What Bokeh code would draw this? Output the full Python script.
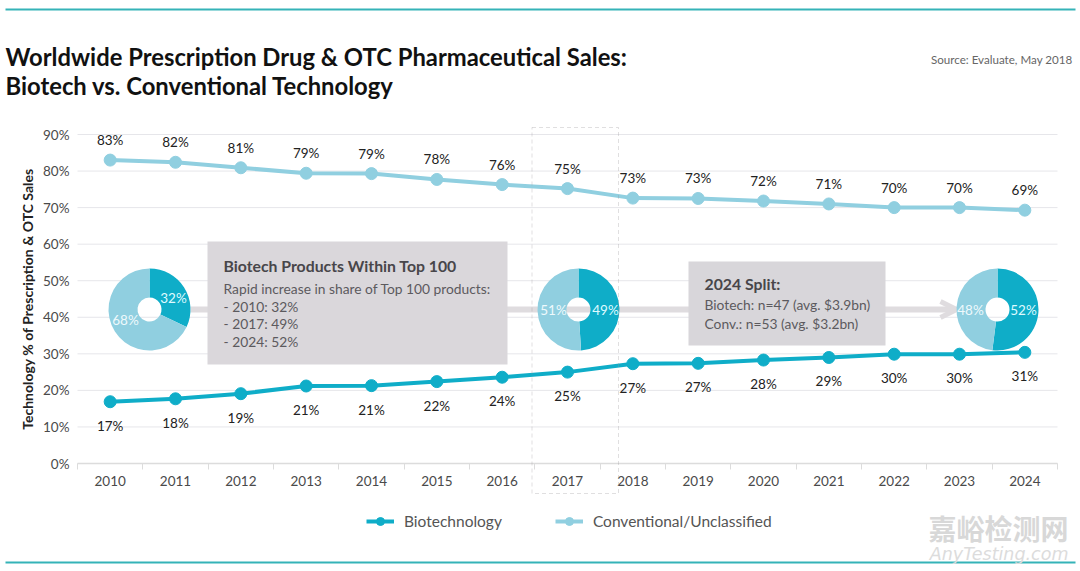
from math import pi
from bokeh.plotting import figure
from bokeh.core.properties import value
from bokeh.embed import file_html
from bokeh.resources import INLINE
from bokeh.models import (ColumnDataSource, Range1d, FixedTicker, Label, LabelSet, LinearAxis,
                          BoxAnnotation, Legend, LegendItem, Arrow, OpenHead)

years = [2010, 2011, 2012, 2013, 2014, 2015, 2016, 2017, 2018, 2019, 2020, 2021, 2022, 2023, 2024]
biotech = [16.9, 17.7, 19.1, 21.2, 21.3, 22.4, 23.6, 25.0, 27.3, 27.4, 28.3, 29.0, 29.9, 29.9, 30.4]
conventional = [83.0, 82.4, 80.9, 79.4, 79.3, 77.7, 76.3, 75.2, 72.6, 72.5, 71.8, 71.0, 70.0, 70.0, 69.3]
biotech_labels = ["17%", "18%", "19%", "21%", "21%", "22%", "24%", "25%", "27%", "27%", "28%", "29%", "30%", "30%", "31%"]
conventional_labels = ["83%", "82%", "81%", "79%", "79%", "78%", "76%", "75%", "73%", "73%", "72%", "71%", "70%", "70%", "69%"]
y_ticks = [0, 10, 20, 30, 40, 50, 60, 70, 80, 90]
pie_biotech = [32, 49, 52]
pie_conventional = [68, 51, 48]

FONT = "Lato"
TEAL = "#0fadc8"
LIGHT = "#90cfe0"
FW, FH = 1080, 571
L, T, R, B = 77, 134, 1057, 463   # plot area edges in image pixels
XS = 15 / (R - L)
YS = 90 / (B - T)

def X(px):
    return 2009.5 + (px - L) * XS

def Y(py):
    return (B - py) * YS

p = figure(width=FW, height=FH, output_backend="svg", toolbar_location=None,
           min_border=0, x_axis_location=None, y_axis_location=None,
           x_range=Range1d(X(0), X(FW)), y_range=Range1d(Y(FH), Y(0)))
p.outline_line_color = None
p.background_fill_color = "white"
p.grid.visible = False

# grid lines, limited to the plot area
p.segment(x0=[X(L)] * len(y_ticks), x1=[X(R)] * len(y_ticks), y0=y_ticks, y1=y_ticks,
          line_color="#e6e6ea", line_width=1, level="underlay")

# axes at fixed positions inside the full-page frame
yax = LinearAxis(fixed_location=X(L), ticker=FixedTicker(ticks=y_ticks), bounds=(0, 90))
yax.major_label_overrides = {v: f"{v}%" for v in y_ticks}
yax.axis_line_color = None
yax.major_tick_line_color = None
yax.minor_tick_line_color = None
yax.major_label_text_font = FONT
yax.major_label_text_font_size = "13.5px"
yax.major_label_text_color = "#4a4a4a"
yax.major_label_standoff = 2
yax.axis_label = "Technology % of Prescription & OTC Sales"
yax.axis_label_text_font = FONT
yax.axis_label_text_font_style = "bold"
yax.axis_label_text_font_size = "14px"
yax.axis_label_text_color = "#222222"
yax.axis_label_standoff = 4
p.add_layout(yax, "left")

xax = LinearAxis(fixed_location=0, bounds=(X(L), X(R)),
                 ticker=FixedTicker(ticks=years, minor_ticks=[y + 0.5 for y in [years[0] - 1] + years]))
xax.major_label_overrides = {y: str(y) for y in years}
xax.axis_line_color = "#dcdcdc"
xax.axis_line_width = 1.5
xax.major_tick_line_color = None
xax.minor_tick_line_color = "#dcdcdc"
xax.minor_tick_out = 6
xax.minor_tick_in = 0
xax.major_label_text_font = FONT
xax.major_label_text_font_size = "13.5px"
xax.major_label_text_color = "#4a4a4a"
xax.major_label_standoff = 6
p.add_layout(xax, "below")

# arrow behind the pies and the boxes
arrow = Arrow(x_start=X(190), y_start=Y(309), x_end=X(956), y_end=Y(309),
              line_color="#dfdcdf", line_width=6, level="underlay",
              end=OpenHead(size=16, line_color="#dfdcdf", line_width=5))
p.add_layout(arrow)

# series
src = ColumnDataSource(dict(year=years, bio=biotech, conv=conventional,
                            bio_l=biotech_labels, conv_l=conventional_labels))
l_bio = p.line("year", "bio", source=src, line_color=TEAL, line_width=4)
m_bio = p.scatter("year", "bio", source=src, size=12, fill_color=TEAL, line_color=TEAL)
l_conv = p.line("year", "conv", source=src, line_color=LIGHT, line_width=4)
m_conv = p.scatter("year", "conv", source=src, size=12, fill_color=LIGHT, line_color=LIGHT)

p.add_layout(LabelSet(x="year", y="conv", text="conv_l", source=src, text_align="center",
                      text_baseline="middle", y_offset=20, text_font=value(FONT),
                      text_font_size=value("13.5px"), text_color="#222222"))
p.add_layout(LabelSet(x="year", y="bio", text="bio_l", source=src, text_align="center",
                      text_baseline="middle", y_offset=-24, text_font=value(FONT),
                      text_font_size=value("13.5px"), text_color="#222222"))

# pies
pie_px = [149, 578, 997]
pie_y = Y(309)
pie_src = ColumnDataSource(dict(
    x=[X(v) for v in pie_px], y=[pie_y] * 3,
    mid=[pi / 2 - 2 * pi * v / 100 for v in pie_biotech],
    top=[pi / 2] * 3))
p.annular_wedge("x", "y", inner_radius=12, outer_radius=41, inner_radius_units="screen",
                outer_radius_units="screen", start_angle="top", end_angle="mid",
                direction="clock", source=pie_src, fill_color=TEAL, line_color=None)
p.annular_wedge("x", "y", inner_radius=12, outer_radius=41, inner_radius_units="screen",
                outer_radius_units="screen", start_angle="mid", end_angle="top",
                direction="clock", source=pie_src, fill_color=LIGHT, line_color=None)

def text(px, py, s, size, color, style="normal", align="left", font=FONT, angle=0):
    p.add_layout(Label(x=X(px), y=Y(py), text=s, text_font=font, text_font_size=f"{size}px",
                       text_color=color, text_font_style=style, text_align=align,
                       text_baseline="middle", angle=angle))

pie_label_pos = [((173, 297), (125, 319)), ((605, 309), (553, 309)), ((1023, 309), (970, 309))]
for (b, c), vb, vc in zip(pie_label_pos, pie_biotech, pie_conventional):
    text(b[0], b[1], f"{vb}%", 13.5, "#dffaff", align="center")
    text(c[0], c[1], f"{vc}%", 13.5, "#eef9fc", align="center")

# rules
for top_px in (9, 562):
    p.add_layout(BoxAnnotation(left=X(5), right=X(1075), top=Y(top_px - 1), bottom=Y(top_px + 1),
                               fill_color="#35b3b8", fill_alpha=1, line_color=None))

# 2017 highlight
p.add_layout(BoxAnnotation(left=X(531.5), right=X(618), top=Y(127), bottom=Y(493),
                           fill_alpha=0, line_color="#989598", line_width=1, line_dash=[4, 3]))

# callout boxes
p.add_layout(BoxAnnotation(left=X(207), right=X(507), top=Y(241), bottom=Y(364),
                           fill_color="#dad7db", fill_alpha=1, line_color=None))
p.add_layout(BoxAnnotation(left=X(688), right=X(885), top=Y(261), bottom=Y(345),
                           fill_color="#d8d6da", fill_alpha=1, line_color=None))

text(223, 265, "Biotech Products Within Top 100", 15.8, "#48464a", "bold")
for i, s in enumerate(["Rapid increase in share of Top 100 products:", "- 2010: 32%", "- 2017: 49%", "- 2024: 52%"]):
    text(223, 288 + i * 17.5, s, 13.8, "#5c5a5e")
text(704, 283, "2024 Split:", 15.8, "#48464a", "bold")
text(704, 304, "Biotech: n=47 (avg. $3.9bn)", 13.8, "#5c5a5e")
text(704, 323, "Conv.: n=53 (avg. $3.2bn)", 13.8, "#5c5a5e")

# titles
text(5, 56, "Worldwide Prescription Drug & OTC Pharmaceutical Sales:", 23.8, "#111111", "bold")
text(5, 85, "Biotech vs. Conventional Technology", 23.8, "#111111", "bold")
text(1072, 59, "Source: Evaluate, May 2018", 11.6, "#666666", align="right")

# legend
legend = Legend(items=[LegendItem(label="Biotechnology", renderers=[l_bio, m_bio]),
                       LegendItem(label="Conventional/Unclassified", renderers=[l_conv, m_conv])],
                orientation="horizontal", location=(366, 40), border_line_color=None,
                background_fill_alpha=0, label_text_font=FONT, label_text_font_size="15.5px",
                label_text_color="#555555", glyph_width=28, spacing=53, label_standoff=10,
                margin=0, padding=0)
p.add_layout(legend, "center")

# watermark
text(1068, 527, "嘉峪检测网", 28, "#d8d8d8", "bold", "right", "Noto Sans CJK SC")
text(1068, 553, "AnyTesting.com", 17.5, "#dcdcdc", "italic", "right", "DejaVu Sans")

open("out.html", "w").write(file_html(p, INLINE))
